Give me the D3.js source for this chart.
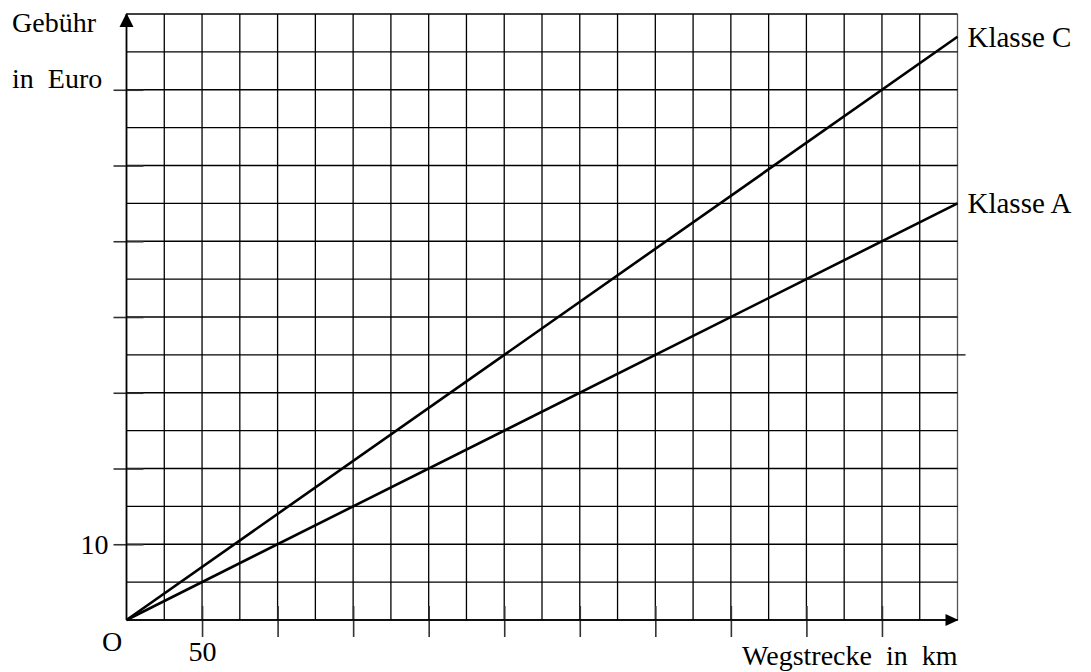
<!DOCTYPE html>
<html>
<head>
<meta charset="utf-8">
<script src="https://cdn.jsdelivr.net/npm/d3@7"></script>
<style>
  body { margin: 0; background: #fff; }
  svg text { font-family: "Liberation Serif", "Times New Roman", serif; fill: #000; white-space: pre; }
</style>
</head>
<body>
<div id="graph"></div>
<script>
// Data
const distance = [0, 550];          // Wegstrecke in km
const klasseA = [0, 55];            // Gebühr in Euro
const klasseC = [0, 77];
const seriesNames = ["Klasse A", "Klasse C"];
const xTickValues = [50, 100, 150, 200, 250, 300, 350, 400, 450, 500];
const yTickValues = [10, 20, 30, 40, 50, 60, 70];
const xTickLabels = ["50"];
const yTickLabels = ["10"];

const width = 1091;
const height = 672;

const svg = d3.select('#graph').append('svg')
    .attr('width', width)
    .attr('height', height);

// Scales
const x = d3.scaleLinear().domain([0, 550]).range([126.5, 957.5]);
const y = d3.scaleLinear().domain([0, 80]).range([620, 14]);

// Grid (every 25 km, every 5 Euro)
const xGrid = d3.range(0, 551, 25);
const yGrid = d3.range(0, 81, 5);

svg.append('g').selectAll('line')
    .data(xGrid)
    .enter().append('line')
    .attr('x1', d => x(d)).attr('x2', d => x(d))
    .attr('y1', y(0)).attr('y2', y(80))
    .attr('stroke', d => d === 550 ? '#555' : '#000')
    .attr('stroke-width', 1.3);

svg.append('g').selectAll('line')
    .data(yGrid)
    .enter().append('line')
    .attr('x1', x(0))
    .attr('x2', d => d === 35 ? x(550) + 8 : x(550))
    .attr('y1', d => y(d)).attr('y2', d => y(d))
    .attr('stroke', '#000')
    .attr('stroke-width', 1.3);

// Y axis ticks (short dashes crossing the axis)
const yAxis = svg.append('g')
    .attr('transform', `translate(${x(0) + 17}, 0)`)
    .call(d3.axisLeft(y)
        .tickValues(yTickValues)
        .tickSize(30)
        .tickPadding(5)
        .tickFormat(d => yTickLabels.includes(String(d)) ? String(d) : ''));
yAxis.select('.domain').remove();
yAxis.selectAll('.tick line').attr('stroke', '#333').attr('stroke-width', 1.6);
yAxis.selectAll('.tick text')
    .attr('font-size', 28)
    .attr('dy', '0.33em')
    .attr('font-family', '"Liberation Serif", serif');

// X axis ticks
const xAxis = svg.append('g')
    .attr('transform', `translate(0, ${y(0) - 14})`)
    .call(d3.axisBottom(x)
        .tickValues(xTickValues)
        .tickSize(31)
        .tickPadding(4)
        .tickFormat(d => xTickLabels.includes(String(d)) ? String(d) : ''));
xAxis.select('.domain').remove();
xAxis.selectAll('.tick line').attr('stroke', '#333').attr('stroke-width', 1.6);
xAxis.selectAll('.tick text')
    .attr('font-size', 28)
    .attr('dy', '0.71em')
    .attr('font-family', '"Liberation Serif", serif');

// Main axes with arrows
svg.append('line')
    .attr('x1', x(0)).attr('x2', x(0))
    .attr('y1', y(0)).attr('y2', y(80))
    .attr('stroke', '#000').attr('stroke-width', 1.6);
svg.append('path')
    .attr('d', `M${x(0)},${y(80) - 1} L${x(0) - 7},${y(80) + 13} L${x(0) + 7},${y(80) + 13} Z`)
    .attr('fill', '#000');

svg.append('line')
    .attr('x1', x(0)).attr('x2', x(550))
    .attr('y1', y(0)).attr('y2', y(0))
    .attr('stroke', '#000').attr('stroke-width', 1.6);
svg.append('path')
    .attr('d', `M${x(550) + 1},${y(0)} L${x(550) - 12},${y(0) - 6} L${x(550) - 12},${y(0) + 6} Z`)
    .attr('fill', '#000');

// Fee lines
const line = d3.line()
    .x(d => x(d[0]))
    .y(d => y(d[1]));

const series = [
    { name: seriesNames[0], values: klasseA },
    { name: seriesNames[1], values: klasseC }
];

svg.append('g').selectAll('path')
    .data(series)
    .enter().append('path')
    .attr('d', d => line(distance.map((km, i) => [km, d.values[i]])))
    .attr('fill', 'none')
    .attr('stroke', '#000')
    .attr('stroke-width', 2.6);

svg.append('g').selectAll('text')
    .data(series)
    .enter().append('text')
    .attr('x', x(550) + 10)
    .attr('y', d => y(d.values[d.values.length - 1]) + 10)
    .attr('font-size', 29)
    .text(d => d.name);

// Axis titles
svg.append('text').attr('x', 12).attr('y', 32).attr('font-size', 28).text('Gebühr');
svg.append('text').attr('x', 12).attr('y', 88).attr('font-size', 28).text('in  Euro');
svg.append('text').attr('x', 102).attr('y', 651).attr('font-size', 28).text('O');
svg.append('text')
    .attr('x', x(550))
    .attr('y', 665)
    .attr('text-anchor', 'end')
    .attr('font-size', 28)
    .text('Wegstrecke  in  km');
</script>
</body>
</html>
